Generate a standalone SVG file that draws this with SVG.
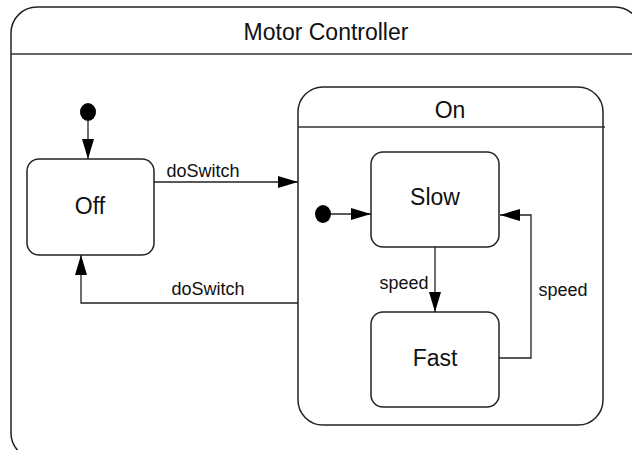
<svg xmlns="http://www.w3.org/2000/svg" width="632" height="450" viewBox="0 0 632 450">
<style>
.box{fill:#fff;stroke:#222;stroke-width:1.5}
.sep{stroke:#333;stroke-width:1.5}
.edge{fill:none;stroke:#222;stroke-width:1.3}
.big{font-family:"Liberation Sans",Arial,sans-serif;font-size:23px;fill:#111;text-anchor:middle}
.lbl{font-family:"Liberation Sans",Arial,sans-serif;font-size:18px;fill:#111;text-anchor:middle}
.dot{fill:#000}
</style>
<defs>
<marker id="ah" viewBox="0 0 20 12" refX="20" refY="6" markerWidth="20" markerHeight="12" markerUnits="userSpaceOnUse" orient="auto">
<path d="M0,0 L20,6 L0,12 Z" fill="#000"/>
</marker>
</defs>
<g id="motor-controller">
<rect class="box" x="11" y="7" width="630" height="452" rx="26"/>
<line class="sep" x1="11" y1="54" x2="641" y2="54"/>
<text class="big" x="326" y="40">Motor Controller</text>
</g>
<g id="on">
<rect class="box" x="298" y="87" width="305" height="338" rx="25"/>
<line class="sep" x1="298" y1="127" x2="605" y2="127"/>
<text class="big" x="450" y="118">On</text>
</g>
<g id="init1"><ellipse class="dot" cx="88" cy="112" rx="8" ry="9"/></g>
<g id="init2"><ellipse class="dot" cx="323" cy="214" rx="8" ry="9"/></g>
<g id="off">
<rect class="box" x="27" y="159" width="127" height="96" rx="12"/>
<text class="big" x="90" y="214">Off</text>
</g>
<g id="slow">
<rect class="box" x="371" y="152" width="128" height="95" rx="12"/>
<text class="big" x="435" y="205">Slow</text>
</g>
<g id="fast">
<rect class="box" x="371" y="312" width="128" height="95" rx="12"/>
<text class="big" x="435" y="366">Fast</text>
</g>
<g id="connectors">
<line class="edge" x1="88" y1="121" x2="88" y2="159" marker-end="url(#ah)"/>
<line class="edge" x1="331" y1="214" x2="371" y2="214" marker-end="url(#ah)"/>
<line class="edge" x1="154" y1="182" x2="298" y2="182" marker-end="url(#ah)"/>
<text class="lbl" x="203" y="177">doSwitch</text>
<polyline class="edge" points="298,303 81,303 81,255" marker-end="url(#ah)"/>
<text class="lbl" x="208" y="295">doSwitch</text>
<line class="edge" x1="435" y1="247" x2="435" y2="312" marker-end="url(#ah)"/>
<text class="lbl" x="404" y="289">speed</text>
<polyline class="edge" points="499,358 531,358 531,215 500,215" marker-end="url(#ah)"/>
<text class="lbl" x="563" y="296">speed</text>
</g>
</svg>
